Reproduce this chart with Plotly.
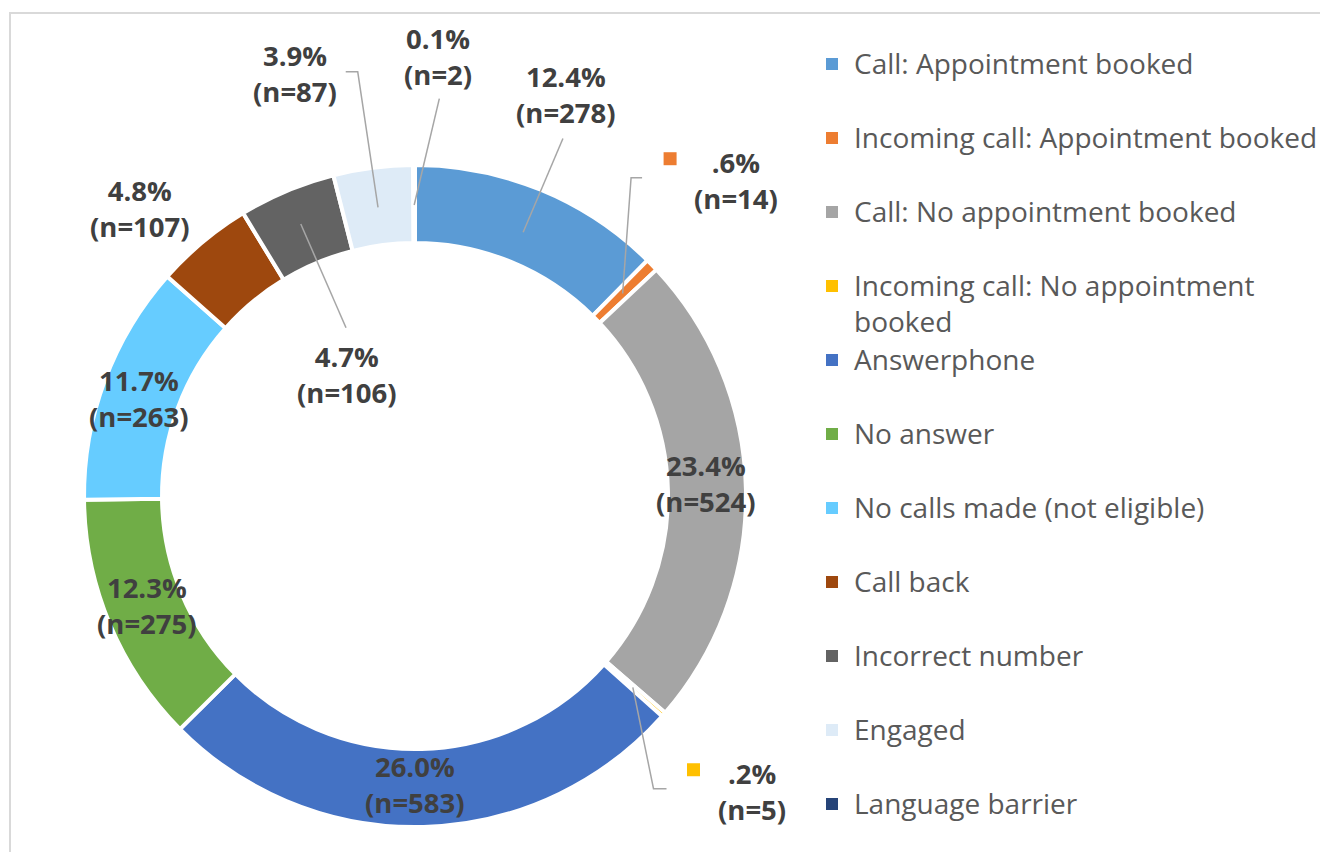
import math
import plotly.graph_objects as go

# Slice data (clockwise from 12 o'clock)
labels = [
    "Call: Appointment booked",
    "Incoming call: Appointment booked",
    "Call: No appointment booked",
    "Incoming call: No appointment booked",
    "Answerphone",
    "No answer",
    "No calls made (not eligible)",
    "Call back",
    "Incorrect number",
    "Engaged",
    "Language barrier",
]
counts = [278, 14, 524, 5, 583, 275, 263, 107, 106, 87, 2]
pct_text = ["12.4%", ".6%", "23.4%", ".2%", "26.0%", "12.3%", "11.7%", "4.8%", "4.7%", "3.9%", "0.1%"]
colors = ["#5B9BD5", "#ED7D31", "#A5A5A5", "#FFC000", "#4472C4", "#70AD47",
          "#66CCFF", "#9E480E", "#636363", "#DEEBF7", "#264478"]

W, H = 1328, 852
PAGE_MARGIN = 8  # the html body margin shifts the figure by this much
FW, FH = W - PAGE_MARGIN, H - PAGE_MARGIN
CX, CY = 415, 496
R_OUT, R_IN = 331, 253
LABEL_COLOR = "#404040"
LEGEND_COLOR = "#595959"
LEADER_COLOR = "#A6A6A6"
FONT = "Open Sans"


def px(x):
    return (x - PAGE_MARGIN) / FW


def py(y):
    return 1 - (y - PAGE_MARGIN) / FH


def polar(r, ang):
    rad = math.radians(ang)
    return CX + r * math.sin(rad), CY - r * math.cos(rad)


total = sum(counts)
mids = []
acc = 0
for c in counts:
    mids.append((acc + c / 2) / total * 360)
    acc += c

# label placement: radius and angle offset from the slice middle
label_place = [(429, -1.7), (450, -0.2), (291, -1.3), (448, 0), (289, 1.5), (289, 0.5),
               (293, -1), (398, -3.8), (139, -6.5), (439, -8.6), (440, 3.2)]
# leader lines: slice index -> (radius of the head on the slice, points relative to label centre)
leaders = {
    0: (285, [(-3, 44)]),
    1: (290, [(-105, -3), (-94, -3)]),
    3: (290, [(-98, -3), (-85, -3)]),
    8: (295, [(-1, -47)]),
    9: (291, [(63, -2), (51, -2)]),
    10: (291, [(1, 42)]),
}
# small legend keys shown next to the tiny-slice labels
key_offsets = {1: (-66, -22), 3: (-58, -22)}

fig = go.Figure()
fig.add_trace(go.Pie(
    labels=labels,
    values=counts,
    sort=False,
    direction="clockwise",
    rotation=0,
    hole=R_IN / R_OUT,
    marker=dict(colors=colors, line=dict(color="white", width=4)),
    textinfo="none",
    hoverinfo="label+value+percent",
    showlegend=False,
    domain=dict(x=[px(CX - R_OUT), px(CX + R_OUT)], y=[py(CY + R_OUT), py(CY - R_OUT)]),
))

annotations = []
shapes = []

# outer frame
shapes.append(dict(type="rect", xref="paper", yref="paper",
                   x0=px(10), y0=-0.05, x1=1.05, y1=py(13),
                   line=dict(color="#D9D9D9", width=2)))

for i, (c, pct) in enumerate(zip(counts, pct_text)):
    r, off = label_place[i]
    lx, ly = polar(r, mids[i] + off)
    annotations.append(dict(
        x=px(lx), y=py(ly), xref="paper", yref="paper",
        text=f"<b>{pct}<br>(n={c})</b>", showarrow=False,
        xanchor="center", yanchor="middle",
        font=dict(family=FONT, size=27.5, color=LABEL_COLOR),
    ))
    if i in leaders:
        head_r, pts = leaders[i]
        hx, hy = polar(head_r, mids[i])
        path = f"M{px(hx)},{py(hy)}"
        for dx, dy in pts:
            path += f" L{px(lx + dx)},{py(ly + dy)}"
        shapes.append(dict(type="path", xref="paper", yref="paper", path=path,
                           line=dict(color=LEADER_COLOR, width=1.5)))
    if i in key_offsets:
        kx, ky = lx + key_offsets[i][0], ly + key_offsets[i][1]
        shapes.append(dict(type="rect", xref="paper", yref="paper",
                           x0=px(kx - 6.5), x1=px(kx + 6.5), y0=py(ky + 6.5), y1=py(ky - 6.5),
                           fillcolor=colors[i], line=dict(width=0)))

# legend on the right
LEG_FS = 28
for i, name in enumerate(labels):
    yc = 64 + 74 * i
    text = name.replace("No appointment booked", "No appointment<br>booked") if name.startswith("Incoming call: No") else name
    annotations.append(dict(
        x=px(852), y=py(yc - 0.65 * LEG_FS - 4), xref="paper", yref="paper",
        text=text, showarrow=False, xanchor="left", yanchor="top", align="left",
        font=dict(family=FONT, size=LEG_FS, color=LEGEND_COLOR),
    ))
    shapes.append(dict(type="rect", xref="paper", yref="paper",
                       x0=px(826), x1=px(838), y0=py(yc + 6), y1=py(yc - 6),
                       fillcolor=colors[i], line=dict(width=0)))

fig.update_layout(
    width=FW,
    height=FH,
    margin=dict(l=0, r=0, t=0, b=0),
    paper_bgcolor="white",
    plot_bgcolor="white",
    annotations=annotations,
    shapes=shapes,
)

fig.write_html("out.html")
